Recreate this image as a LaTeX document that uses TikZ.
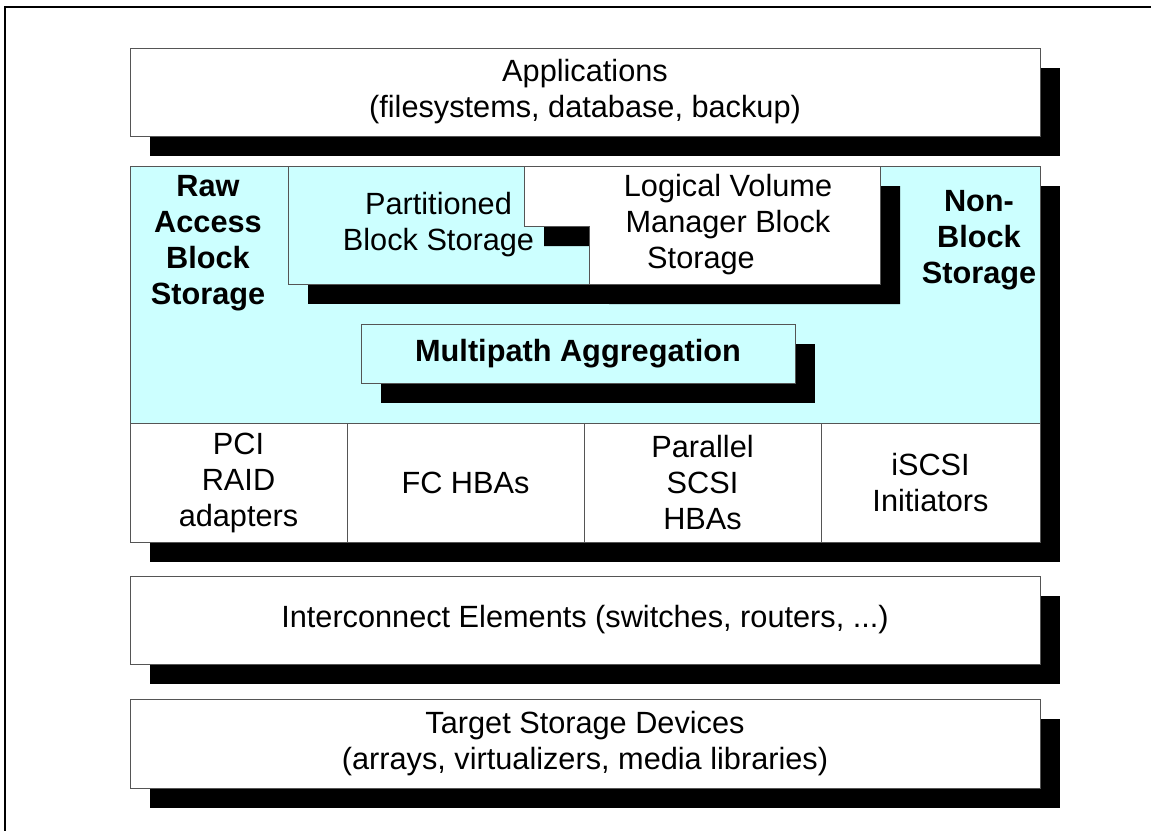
\documentclass[tikz,border=0pt]{standalone}
\usepackage{fontspec}
\setmainfont{Liberation Sans}
\usepackage{tikz}
\usetikzlibrary{positioning,shadows}
\definecolor{hostcyan}{HTML}{CCFFFF}
\definecolor{edgegray}{HTML}{555555}
\tikzset{
  % Specifications for style of nodes:
  base/.style = {
    rectangle,
    draw=edgegray,
    line width=1pt,
    align=center,
    inner sep=0pt,
    outer sep=0pt,
    font=\fontsize{30.7}{36}\selectfont
  },
  shadowed/.style = {
    drop shadow={shadow xshift=20pt, shadow yshift=-20pt,
                 fill=black, opacity=1}
  },
  layer/.style = {
    base,
    shadowed,
    fill=white,
    minimum width=910pt,
    minimum height=88pt,
    node distance=34pt
  },
  host/.style = {
    base,
    shadowed,
    fill=hostcyan,
    minimum width=910pt,
    minimum height=376pt
  },
  adapter/.style = {
    base,
    fill=white,
    minimum width=237pt,
    minimum height=119pt,
    node distance=0pt
  },
  driver/.style = {
    base,
    shadowed,
    fill=hostcyan,
    minimum width=301pt,
    minimum height=118pt
  },
  caption/.style = {
    align=center,
    inner sep=0pt,
    anchor=north,
    font=\fontsize{30.7}{36}\selectfont\bfseries
  },
}

\begin{document}
\begin{tikzpicture}[x=1pt, y=-1pt]
    \useasboundingbox (0,0) rectangle (1151,831);
    % outer frame, cut off at right and bottom
    \draw[line width=2pt] (1151,7) -- (5,7) -- (5,831);

    % Specification of nodes (position, etc.)
    \node[layer] (apps) at (585,92) {Applications\\(filesystems, database, backup)};
    \node[host] (host) at (585,354) {};
    \node[adapter, minimum width=217pt] (pci) at (238.5,482.5) {PCI\\RAID\\adapters};
    \node[adapter, right=of pci] (fc)  {FC HBAs};
    \node[adapter, right=of fc]  (par) {Parallel\\SCSI\\HBAs};
    \node[adapter, minimum width=219pt, right=of par] (iscsi) {iSCSI\\Initiators};
    \node[driver] (part) at (438.5,225) {Partitioned\\Block Storage};
    \filldraw[draw=edgegray, line width=1pt, fill=white, shadowed]
      (524,166) -- (880,166) -- (880,284) -- (589,284) -- (589,226) -- (524,226) -- cycle;
    \node[base, draw=none] (lvm) at (728,225)
      {Logical Volume\\Manager Block\\Storage\rule{54pt}{0pt}};
    \node[driver, minimum width=434pt, minimum height=59pt, font=\fontsize{30.7}{36}\selectfont\bfseries]
      (mpath) at (578,353.5) {Multipath Aggregation};
    \node[caption] (raw) at (208,175) {Raw\\Access\\Block\\Storage};
    \node[caption] (nonblock) at (979,190) {Non-\\Block\\Storage};
    \node[layer, below=of host] (inter) {Interconnect Elements (switches, routers, ...)};
    \node[layer, below=35pt of inter, minimum height=89pt] (target)
      {Target Storage Devices\\(arrays, virtualizers, media libraries)};
\end{tikzpicture}
\end{document}
